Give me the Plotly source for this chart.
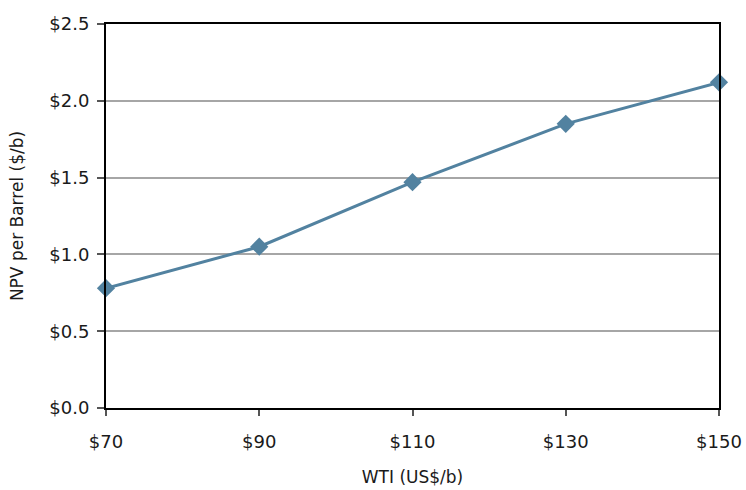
import plotly.graph_objects as go

wti = [70, 90, 110, 130, 150]
wti_labels = ["$70", "$90", "$110", "$130", "$150"]
npv_per_barrel = [0.78, 1.05, 1.47, 1.85, 2.12]

font_family = "Century Gothic, Futura, DejaVu Sans, sans-serif"
line_color = "#5282a0"

fig = go.Figure(
    go.Scatter(
        x=wti,
        y=npv_per_barrel,
        mode="lines+markers",
        line=dict(color=line_color, width=3),
        marker=dict(symbol="diamond", size=14, color=line_color),
        cliponaxis=False,
    )
)

fig.update_layout(
    width=746,
    height=490,
    margin=dict(l=106, r=27, t=24, b=82),
    paper_bgcolor="white",
    plot_bgcolor="white",
    showlegend=False,
    font=dict(family=font_family, size=18, color="#1a1a1a"),
)

fig.update_xaxes(
    range=[70, 150],
    tickvals=wti,
    ticktext=wti_labels,
    tickfont=dict(size=18),
    automargin=False,
    showgrid=False,
    zeroline=False,
    showline=True,
    linecolor="black",
    linewidth=2,
    mirror=True,
    ticks="outside",
    ticklen=6,
    tickwidth=1.5,
    tickcolor="#555555",
    ticklabelstandoff=10,
    title=dict(text="WTI (US$/b)", font=dict(size=17), standoff=21),
)

fig.update_yaxes(
    range=[0, 2.5],
    dtick=0.5,
    tickformat=".1f",
    tickprefix="$",
    tickfont=dict(size=18),
    automargin=False,
    showgrid=True,
    gridcolor="#a6a6a6",
    gridwidth=1.5,
    zeroline=False,
    showline=True,
    linecolor="black",
    linewidth=2,
    mirror=True,
    ticks="outside",
    ticklen=7,
    tickwidth=1.5,
    tickcolor="#555555",
    ticklabelstandoff=4,
    title=dict(text="NPV per Barrel ($/b)", font=dict(size=17), standoff=21),
)

fig.write_html("out.html")
